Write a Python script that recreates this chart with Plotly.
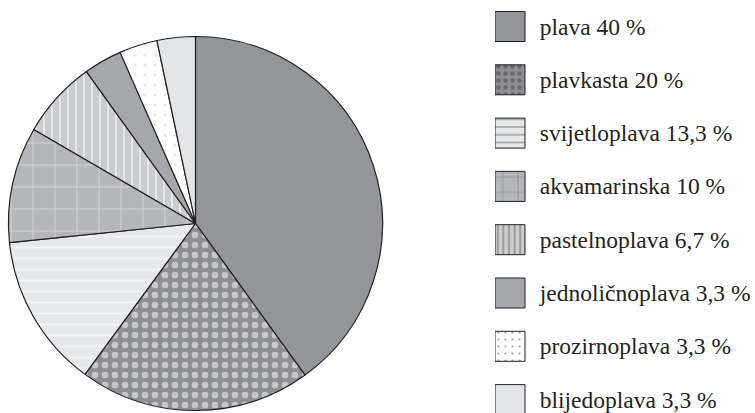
import plotly.graph_objects as go

# ---- data ----
labels = ["plava", "plavkasta", "svijetloplava", "akvamarinska",
          "pastelnoplava", "jednoličnoplava", "prozirnoplava", "blijedoplava"]
values = [40, 20, 13.3, 10, 6.7, 3.3, 3.3, 3.3]

# ---- styles ----
colors = ["#939598", "#8e8f92", "#e6e7e8", "#b5b6b9",
          "#cbccce", "#a6a7aa", "#ffffff", "#e4e5e7"]
shapes = ["", ".", "-", "+", "|", "", ".", ""]
fgcolors = ["#ffffff", "#ffffff", "#ffffff", "#ffffff",
            "#ffffff", "#ffffff", "#cfd0d2", "#ffffff"]
psizes = [8, 10, 11, 22, 8, 8, 10, 8]
psolid = [0.3, 0.35, 0.18, 0.07, 0.25, 0.3, 0.08, 0.3]

W, H = 755, 413
line_col = "#231f20"
font_fam = "Liberation Serif"
fsize = 23.5

legend_text = ["\u00a0\u00a0" + l + " " + (f"{v:g}".replace(".", ",")) + " %"
               for l, v in zip(labels, values)]

fig = go.Figure()

# pie geometry (pixels)
cx, cy, r = 195.5, 223.5, 187
fig.add_trace(go.Pie(
    labels=labels, values=values, sort=False, direction="clockwise",
    rotation=0, textinfo="none", hoverinfo="label+percent",
    showlegend=False,
    marker=dict(colors=colors,
                line=dict(color=line_col, width=1.2),
                pattern=dict(shape=shapes, fgcolor=fgcolors, bgcolor=colors,
                             size=psizes, solidity=psolid, fillmode="overlay")),
    domain=dict(x=[(cx - r) / W, (cx + r) / W],
                y=[(H - cy - r) / H, (H - cy + r) / H]),
))

# legend swatches drawn as a hidden bar subplot
swatch = [1] * len(labels)
fig.add_trace(go.Bar(
    y=labels, x=swatch, orientation="h", width=30 / 53.3,
    marker=dict(color=colors, line=dict(color=line_col, width=1),
                pattern=dict(shape=shapes, fgcolor=fgcolors, bgcolor=colors,
                             size=[s * 0.7 for s in psizes], solidity=psolid,
                             fillmode="overlay")),
    text=legend_text, textposition="outside", constraintext="none",
    cliponaxis=False, hoverinfo="skip", showlegend=False,
    outsidetextfont=dict(family=font_fam, size=fsize, color=line_col),
))

leg_left = 495
row0, step = 26.5, 53.3
fig.update_layout(
    width=W, height=H, margin=dict(l=0, r=0, t=0, b=0),
    paper_bgcolor="white", plot_bgcolor="rgba(0,0,0,0)",
    font=dict(family=font_fam, size=fsize, color=line_col),
    xaxis=dict(domain=[leg_left / W, 1], range=[0, (W - leg_left) / 30],
               visible=False, fixedrange=True),
    yaxis=dict(domain=[0, 1], type="category",
               range=[(H - row0) / step, -row0 / step],
               visible=False, fixedrange=True),
    showlegend=False,
)

fig.write_html("out.html", config={"displayModeBar": False},
               post_script="document.body.style.margin='0';"
                           "document.body.style.overflow='hidden';")
